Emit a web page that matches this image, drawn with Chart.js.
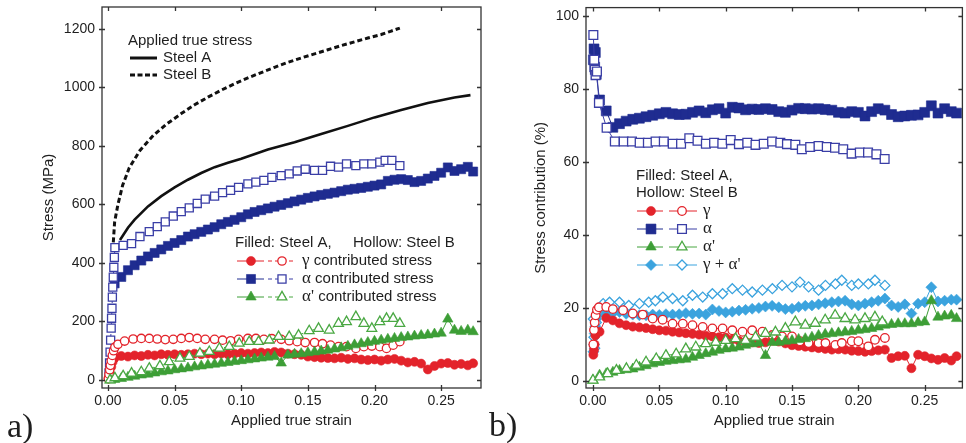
<!DOCTYPE html>
<html>
<head>
<meta charset="utf-8">
<script src="https://cdn.jsdelivr.net/npm/chart.js@4.4.0/dist/chart.umd.min.js"></script>
<style>
  html, body { margin: 0; padding: 0; background: #fff; }
  #page { position: relative; width: 966px; height: 443px; overflow: hidden; background: #fff; }
  #chartA { position: absolute; left: 0; top: 0; }
  #chartB { position: absolute; left: 484px; top: 0; }
</style>
</head>
<body>
<div id="page">
  <canvas id="chartA" width="488" height="443"></canvas>
  <canvas id="chartB" width="486" height="443"></canvas>
</div>
<script>
const SANS = '"Liberation Sans", Arial, sans-serif';
const SERIF = '"Liberation Serif", "Times New Roman", serif';
const INK = '#1e1e1e';

const RED = '#e3232b';
const NAVY = '#1f2c90';
const NAVY_OPEN = '#3a3ea6';
const GREEN = '#3d9e36';
const GREEN_OPEN = '#4aa843';
const SKY = '#3ba3de';

// tick labels
const strainTicks = [0, 0.05, 0.10, 0.15, 0.20, 0.25];
const stressTicks = [0, 200, 400, 600, 800, 1000, 1200];
const shareTicks = [0, 20, 40, 60, 80, 100];

// legend phase names
const phaseNames = ['γ', 'α', "α'"];
const phaseNamesB = ['γ', 'α', "α'", "γ + α'"];

// ---- a) applied true stress curves ----
const applStrainA = [0.009, 0.015, 0.020, 0.030, 0.040, 0.050, 0.060, 0.070, 0.080, 0.090, 0.100, 0.120, 0.140, 0.160, 0.180, 0.200, 0.220, 0.240, 0.260, 0.272];
const applStressA = [478, 520, 548, 593, 628, 658, 684, 707, 727, 742, 756, 787, 812, 840, 868, 897, 922, 946, 965, 973];
const applStrainB = [0.004, 0.005, 0.0075, 0.011, 0.016, 0.024, 0.034, 0.044, 0.055, 0.065, 0.075, 0.085, 0.095, 0.105, 0.115, 0.125, 0.135, 0.145, 0.155, 0.165, 0.175, 0.185, 0.195, 0.205, 0.212, 0.219];
const applStressB = [470, 540, 600, 665, 725, 784, 835, 874, 910, 940, 966, 990, 1012, 1032, 1050, 1068, 1085, 1100, 1114, 1128, 1142, 1155, 1168, 1180, 1191, 1202];

// strain steps of the steel A measurements
const gridA = [0.005, 0.010, 0.015, 0.020, 0.025, 0.030, 0.035, 0.040, 0.045, 0.050, 0.055, 0.060, 0.065, 0.070, 0.075, 0.080, 0.085, 0.090, 0.095, 0.100, 0.105, 0.110, 0.115, 0.120, 0.125, 0.130, 0.135, 0.140, 0.145, 0.150, 0.155, 0.160, 0.165, 0.170, 0.175, 0.180, 0.185, 0.190, 0.195, 0.200, 0.205, 0.210, 0.215, 0.220, 0.225, 0.230, 0.235, 0.240, 0.245, 0.250, 0.255, 0.260, 0.265, 0.270, 0.274];

// ---- a) phase stresses, steel A (filled) ----
const aGammaStartA = [0.0005, 0.0015, 0.0025, 0.0035];
const aGammaStartValA = [5, 22, 45, 62];
const aGammaA = [75, 82, 80, 84, 82, 86, 84, 88, 86, 88, 86, 88, 90, 88, 90, 88, 90, 88, 90, 92, 90, 92, 94, 92, 96, 94, 90, 88, 86, 80, 78, 76, 75, 74, 76, 72, 74, 70, 68, 70, 66, 70, 72, 66, 60, 62, 56, 36, 48, 56, 58, 52, 55, 50, 57];
const aAlphaA = [330, 352, 375, 392, 408, 422, 434, 446, 458, 468, 478, 490, 498, 506, 514, 522, 532, 540, 547, 556, 566, 574, 580, 586, 592, 598, 604, 610, 616, 622, 627, 632, 636, 640, 645, 650, 653, 656, 660, 664, 668, 680, 684, 686, 683, 676, 680, 688, 697, 708, 726, 714, 720, 728, 712];
const aMartA = [2, 5, 9, 13, 17, 20, 24, 28, 31, 35, 38, 41, 45, 48, 51, 54, 57, 60, 63, 66, 69, 72, 75, 78, 80, 58, 85, 88, 90, 93, 96, 99, 102, 106, 110, 115, 120, 124, 128, 132, 136, 139, 142, 145, 147, 150, 152, 154, 157, 160, 208, 170, 166, 170, 165];

// ---- a) phase stresses, steel B (hollow) ----
const aGammaStrainB = [0.0003, 0.0008, 0.0013, 0.0018, 0.0025, 0.0033, 0.0042, 0.0052, 0.0075, 0.0125, 0.0189, 0.025, 0.031, 0.037, 0.043, 0.049, 0.055, 0.061, 0.067, 0.073, 0.080, 0.086, 0.092, 0.098, 0.105, 0.111, 0.117, 0.123, 0.130, 0.136, 0.142, 0.148, 0.155, 0.161, 0.167, 0.173, 0.179, 0.186, 0.192, 0.198, 0.204, 0.209, 0.214, 0.219];
const aGammaB = [5, 20, 35, 50, 66, 84, 100, 112, 122, 133, 140, 142, 142, 140, 138, 139, 142, 145, 142, 139, 139, 136, 134, 139, 142, 142, 139, 141, 139, 134, 131, 128, 128, 124, 119, 114, 114, 108, 114, 116, 114, 108, 119, 131];
const aAlphaStrainB = [0.0008, 0.0012, 0.0016, 0.0020, 0.0024, 0.0027, 0.0030, 0.0033, 0.0036, 0.0040, 0.0044, 0.0048, 0.0052, 0.0114, 0.0177, 0.024, 0.031, 0.037, 0.043, 0.049, 0.055, 0.061, 0.067, 0.073, 0.080, 0.086, 0.092, 0.098, 0.105, 0.111, 0.117, 0.123, 0.130, 0.136, 0.142, 0.148, 0.155, 0.161, 0.167, 0.173, 0.179, 0.186, 0.192, 0.198, 0.204, 0.208, 0.213, 0.219];
const aAlphaB = [24, 58, 95, 136, 177, 211, 245, 283, 317, 351, 385, 419, 452, 460, 466, 490, 507, 524, 540, 560, 575, 588, 603, 618, 628, 640, 648, 658, 670, 676, 682, 692, 698, 704, 714, 720, 716, 716, 730, 727, 738, 732, 738, 738, 744, 750, 750, 732];
const aMartStrainB = [0.0015, 0.0052, 0.0114, 0.0177, 0.025, 0.031, 0.039, 0.046, 0.054, 0.061, 0.069, 0.076, 0.0836, 0.091, 0.0985, 0.106, 0.113, 0.121, 0.128, 0.136, 0.143, 0.151, 0.158, 0.166, 0.173, 0.179, 0.186, 0.192, 0.198, 0.204, 0.209, 0.214, 0.219];
const aMartB = [0, 7, 14, 23, 28, 40, 48, 62, 74, 80, 91, 97, 108, 114, 125, 131, 131, 136, 148, 148, 153, 168, 176, 170, 193, 199, 216, 193, 176, 199, 210, 210, 193];

// ---- b) stress contribution, steel A (filled) ----
const bStartA = [0.0003, 0.0008, 0.0013, 0.0018, 0.0025];
const bGammaStartValA = [7.2, 8.5, 10, 12.5, 13.0];
const bAlphaStartValA = [88, 91, 86, 90, 84];
const bSumStartValA = [8, 10, 13, 15, 17];
const bGammaA = [13.5, 17.3, 16.6, 15.8, 15.3, 14.9, 14.7, 14.5, 14.2, 13.9, 13.8, 13.5, 13.3, 13.1, 12.9, 12.7, 12.4, 12.2, 12.0, 11.9, 11.4, 11.0, 10.8, 10.6, 10.4, 10.6, 11.0, 10.8, 10.3, 9.8, 9.6, 9.4, 9.2, 9.0, 8.8, 8.6, 8.7, 8.6, 8.3, 8.2, 8.0, 8.2, 8.4, 8.6, 6.3, 6.8, 6.9, 3.5, 7.2, 6.8, 6.2, 5.8, 6.3, 5.6, 6.8];
const bAlphaA = [77, 74, 69.5, 70.5, 71.2, 71.7, 72.0, 72.4, 72.8, 73.2, 73.6, 73.2, 73.0, 73.1, 73.6, 74.0, 73.5, 74.3, 74.6, 73.4, 75.0, 74.8, 74.3, 74.5, 74.4, 74.6, 74.4, 73.8, 73.6, 74.2, 74.7, 74.6, 74.5, 74.6, 74.4, 74.2, 73.6, 73.4, 73.8, 73.6, 72.6, 73.8, 74.6, 74.2, 73.0, 72.4, 72.6, 72.8, 72.9, 73.6, 75.4, 73.4, 74.6, 73.8, 73.4];
const bMartA = [1.6, 2.0, 2.4, 2.9, 3.1, 3.3, 3.8, 4.2, 4.7, 5.1, 5.4, 5.6, 5.8, 6.0, 6.5, 7.0, 7.5, 7.9, 8.4, 8.8, 9.0, 9.3, 9.8, 10.2, 10.4, 7.0, 10.6, 10.6, 10.9, 11.1, 11.4, 11.6, 12.0, 12.5, 12.8, 13.0, 13.2, 13.4, 13.6, 13.9, 14.1, 14.4, 14.8, 15.3, 15.5, 15.7, 15.7, 15.7, 16.0, 16.2, 22.0, 17.5, 17.8, 18.0, 17.1];
const bSumA = [18.5, 18.9, 18.6, 18.9, 18.4, 18.2, 18.0, 18.0, 18.2, 18.1, 18.3, 18.2, 18.3, 18.6, 18.4, 18.5, 18.2, 19.6, 19.2, 18.8, 19.0, 19.3, 19.5, 19.8, 20.0, 20.4, 20.6, 20.2, 19.7, 19.8, 20.3, 20.6, 20.7, 21.0, 21.3, 21.6, 21.8, 22.0, 21.0, 20.7, 21.2, 21.6, 22.0, 22.6, 20.7, 20.3, 21.0, 18.5, 21.2, 21.6, 25.7, 21.8, 22.0, 22.3, 22.3];

// ---- b) stress contribution, steel B (hollow) ----
const bGammaStrainB = [0.0003, 0.0008, 0.0013, 0.0020, 0.0030, 0.0045, 0.010, 0.015, 0.0227, 0.030, 0.0375, 0.045, 0.0525, 0.060, 0.0677, 0.075, 0.0827, 0.090, 0.0977, 0.105, 0.1127, 0.120, 0.1277, 0.1352, 0.1425, 0.150, 0.156, 0.1625, 0.170, 0.1752, 0.1827, 0.1875, 0.195, 0.200, 0.2075, 0.2125, 0.220];
const bGammaB = [10, 14, 16, 18, 19.5, 20.2, 20.3, 19.7, 19.4, 18.5, 18.2, 17.1, 16.8, 15.7, 15.7, 15.3, 14.8, 14.4, 14.4, 13.9, 13.5, 13.9, 13.5, 12.6, 12.2, 12.2, 10.9, 10.4, 10.4, 10.4, 9.9, 10.4, 10.9, 10.9, 9.5, 11.3, 11.8];
const bAlphaStrainB = [0.0003, 0.0010, 0.0015, 0.0020, 0.0030, 0.0045, 0.0103, 0.0165, 0.0232, 0.0294, 0.0352, 0.0414, 0.0472, 0.0534, 0.0601, 0.0664, 0.0726, 0.0788, 0.0851, 0.0913, 0.0975, 0.1038, 0.110, 0.1163, 0.1225, 0.1287, 0.135, 0.1412, 0.1462, 0.1525, 0.1574, 0.1637, 0.170, 0.1762, 0.1824, 0.1886, 0.1949, 0.2011, 0.2073, 0.2136, 0.2198];
const bAlphaB = [94.8, 88, 85.3, 83.8, 84.8, 76.2, 69.4, 65.6, 65.6, 65.6, 65.3, 65.3, 65.6, 65.6, 65.0, 65.0, 66.5, 65.8, 65.0, 65.3, 65.0, 66.0, 64.9, 65.3, 64.7, 65.0, 65.6, 65.3, 64.9, 64.7, 63.5, 64.1, 64.4, 64.1, 63.9, 63.5, 62.3, 62.6, 62.6, 62.1, 60.8];
const bMartStrainB = [0.000, 0.005, 0.011, 0.0177, 0.0252, 0.0327, 0.040, 0.0477, 0.055, 0.0627, 0.070, 0.0775, 0.085, 0.0925, 0.100, 0.1075, 0.115, 0.1225, 0.130, 0.1375, 0.145, 0.1525, 0.160, 0.1675, 0.175, 0.1825, 0.190, 0.1975, 0.205, 0.2125, 0.218];
const bMartB = [0.2, 1.1, 2.0, 2.9, 3.4, 4.3, 5.2, 6.1, 7.0, 7.4, 8.8, 9.3, 10.2, 10.6, 11.1, 11.6, 11.1, 12.0, 13.0, 13.4, 14.4, 16.2, 15.3, 15.8, 16.7, 18.0, 17.1, 16.7, 17.1, 17.5, 16.2];
const bSumStrainB = [0.0003, 0.0008, 0.0013, 0.0018, 0.0025, 0.0035, 0.0077, 0.0125, 0.020, 0.027, 0.035, 0.042, 0.047, 0.0527, 0.060, 0.0677, 0.075, 0.0827, 0.090, 0.0977, 0.105, 0.1127, 0.120, 0.1277, 0.1352, 0.1425, 0.150, 0.156, 0.1625, 0.170, 0.1752, 0.1827, 0.1875, 0.195, 0.200, 0.2075, 0.2125, 0.220];
const bSumB = [17, 12, 9, 14, 16, 19, 21.2, 21.6, 21.6, 20.7, 21.2, 21.6, 22.0, 23.0, 22.6, 22.0, 23.5, 23.0, 23.9, 23.9, 25.3, 24.9, 24.4, 24.9, 25.3, 26.2, 25.8, 27.1, 25.8, 24.9, 26.2, 26.6, 27.6, 26.2, 26.6, 26.6, 27.6, 26.2];

function pts(xs, ys) {
    return xs.map((x, i) => ({ x: x, y: ys[i] }));
}

// one marker series, joined by a thin line
function phase(xs, ys, color, style, radius, filled, dashed, order) {
    return {
        data: pts(xs, ys),
        showLine: true,
        order: order,
        borderColor: color,
        borderWidth: 1,
        borderDash: dashed ? [4, 3] : [],
        pointStyle: style,
        pointRadius: radius,
        pointBackgroundColor: filled ? color : '#ffffff',
        pointBorderColor: color,
        pointBorderWidth: filled ? 0.6 : 1.3
    };
}

function drawMark(ctx, style, radius, color, filled, x, y) {
    ctx.save();
    ctx.fillStyle = filled ? color : '#ffffff';
    ctx.strokeStyle = color;
    ctx.lineWidth = filled ? 0.6 : 1.3;
    ctx.setLineDash([]);
    Chart.helpers.drawPoint(ctx, { pointStyle: style, radius: radius, rotation: 0, borderWidth: ctx.lineWidth }, x, y);
    ctx.restore();
}

// box round the plot with short ticks on all four sides
const framePlugin = {
    id: 'frame',
    afterDatasetsDraw(chart) {
        const { ctx, chartArea: ca, scales } = chart;
        ctx.save();
        ctx.strokeStyle = '#333';
        ctx.lineWidth = 1.3;
        ctx.strokeRect(ca.left, ca.top, ca.right - ca.left, ca.bottom - ca.top);
        ctx.beginPath();
        scales.x.ticks.forEach(t => {
            const px = Math.round(scales.x.getPixelForValue(t.value)) + 0.5;
            ctx.moveTo(px, ca.bottom + 3);
            ctx.lineTo(px, ca.bottom - 3);
            ctx.moveTo(px, ca.top);
            ctx.lineTo(px, ca.top + 4);
        });
        scales.y.ticks.forEach(t => {
            const py = Math.round(scales.y.getPixelForValue(t.value)) + 0.5;
            ctx.moveTo(ca.left - 3, py);
            ctx.lineTo(ca.left + 3, py);
            ctx.moveTo(ca.right, py);
            ctx.lineTo(ca.right - 4, py);
        });
        ctx.stroke();
        ctx.restore();
    }
};

// fixed axis boxes, so the plot area lands where the layout padding says
function pinBox(s, size) {
    if (s.isHorizontal()) s.height = size; else s.width = size;
    s.paddingTop = 0;
    s.paddingBottom = 0;
    s.paddingLeft = 0;
    s.paddingRight = 0;
}

function scaleSet(xMin, xMax, yMin, yMax, yTicks, yTitle, yTitlePad) {
    return {
        x: {
            type: 'linear', min: xMin, max: xMax,
            afterBuildTicks: s => { s.ticks = strainTicks.map(v => ({ value: v })); },
            afterFit: s => pinBox(s, 55),
            grid: { display: false, drawTicks: false },
            border: { display: false },
            ticks: { padding: 5, maxRotation: 0, autoSkip: false, color: INK, font: { family: SANS, size: 14 }, callback: v => v.toFixed(2) },
            title: { display: true, text: 'Applied true strain', color: INK, font: { family: SANS, size: 15 }, padding: { top: 0, bottom: 13 } }
        },
        y: {
            type: 'linear', min: yMin, max: yMax,
            afterBuildTicks: s => { s.ticks = yTicks.map(v => ({ value: v })); },
            afterFit: s => pinBox(s, 102),
            grid: { display: false, drawTicks: false },
            border: { display: false },
            ticks: { padding: 7, autoSkip: false, color: INK, font: { family: SANS, size: 14 }, callback: v => String(v) },
            title: { display: true, text: yTitle, color: INK, font: { family: SANS, size: 15 }, padding: { top: yTitlePad, bottom: 0 } }
        }
    };
}

// the x scale keeps a 5px margin on the right, the canvases are sized for it
function baseOptions(scales) {
    return {
        responsive: false,
        animation: false,
        devicePixelRatio: 1,
        events: [],
        layout: { padding: { left: 0, right: 1, top: 6, bottom: 0 } },
        elements: { line: { tension: 0 } },
        plugins: { legend: { display: false }, tooltip: { enabled: false } },
        scales: scales
    };
}

// ---------- a) stresses ----------
const legendA = {
    id: 'legendA',
    afterDraw(chart) {
        const ctx = chart.ctx;
        ctx.save();
        ctx.fillStyle = INK;
        ctx.textBaseline = 'middle';
        ctx.font = '15px ' + SANS;
        ctx.fillText('Applied true stress', 128, 41);
        ctx.fillText('Steel A', 163, 58);
        ctx.fillText('Steel B', 163, 75);
        ctx.strokeStyle = '#111';
        ctx.lineWidth = 3;
        ctx.beginPath(); ctx.moveTo(130, 58); ctx.lineTo(157, 58); ctx.stroke();
        ctx.setLineDash([5, 2.5]);
        ctx.beginPath(); ctx.moveTo(130, 75); ctx.lineTo(157, 75); ctx.stroke();
        ctx.setLineDash([]);

        ctx.fillText('Filled: Steel A,', 235, 243);
        ctx.fillText('Hollow: Steel B', 353, 243);

        const rows = [
            { c: RED, co: RED, s: 'circle', r: 4.5, ro: 4.2 },
            { c: NAVY, co: NAVY_OPEN, s: 'rect', r: 6.4, ro: 5.7 },
            { c: GREEN, co: GREEN_OPEN, s: 'triangle', r: 6, ro: 5.6 }
        ];
        rows.forEach((row, i) => {
            const y = 261 + i * 18;
            ctx.lineWidth = 1;
            ctx.strokeStyle = row.c;
            ctx.beginPath(); ctx.moveTo(237, y); ctx.lineTo(264, y); ctx.stroke();
            ctx.strokeStyle = row.co;
            ctx.setLineDash([4, 3]);
            ctx.beginPath(); ctx.moveTo(268, y); ctx.lineTo(296, y); ctx.stroke();
            ctx.setLineDash([]);
            drawMark(ctx, row.s, row.r, row.c, true, 251, y);
            drawMark(ctx, row.s, row.ro, row.co, false, 282, y);
            ctx.fillStyle = INK;
            ctx.font = '17px ' + SERIF;
            ctx.fillText(phaseNames[i], 302, y);
            const w = ctx.measureText(phaseNames[i]).width;
            ctx.font = '15px ' + SANS;
            ctx.fillText(' contributed stress', 302 + w, y);
        });

        ctx.font = '34px ' + SERIF;
        ctx.textBaseline = 'alphabetic';
        ctx.fillText('a)', 7, 437);
        ctx.restore();
    }
};

new Chart(document.getElementById('chartA'), {
    type: 'scatter',
    data: {
        datasets: [
            { data: pts(applStrainA, applStressA), showLine: true, order: 0, borderColor: '#111', borderWidth: 2.6, pointRadius: 0 },
            { data: pts(applStrainB, applStressB), showLine: true, order: 0, borderColor: '#111', borderWidth: 3, borderDash: [5, 3], pointRadius: 0 },
            phase(aMartStrainB, aMartB, GREEN_OPEN, 'triangle', 5.6, false, true, 1),
            phase([0.002].concat(gridA), [0].concat(aMartA), GREEN, 'triangle', 6, true, false, 2),
            phase(aGammaStrainB, aGammaB, RED, 'circle', 4.2, false, true, 3),
            phase(aGammaStartA.concat(gridA), aGammaStartValA.concat(aGammaA), RED, 'circle', 4.5, true, false, 4),
            phase(aAlphaStrainB, aAlphaB, NAVY_OPEN, 'rect', 5.7, false, true, 5),
            phase(gridA, aAlphaA, NAVY, 'rect', 6.4, true, false, 6)
        ]
    },
    options: baseOptions(scaleSet(-0.00448, 0.2799, -27.3, 1274, stressTicks, 'Stress (MPa)', 40)),
    plugins: [framePlugin, legendA]
});

// ---------- b) stress contribution ----------
const legendB = {
    id: 'legendB',
    afterDraw(chart) {
        const ctx = chart.ctx;
        ctx.save();
        ctx.fillStyle = INK;
        ctx.textBaseline = 'middle';
        ctx.font = '15px ' + SANS;
        ctx.fillText('Filled: Steel A,', 152, 176);
        ctx.fillText('Hollow: Steel B', 152, 193);

        const rows = [
            { c: RED, co: RED, s: 'circle', r: 4.5, ro: 4.3 },
            { c: NAVY, co: NAVY_OPEN, s: 'rect', r: 7, ro: 6.2 },
            { c: GREEN, co: GREEN_OPEN, s: 'triangle', r: 6, ro: 5.8 },
            { c: SKY, co: SKY, s: 'rectRot', r: 5.5, ro: 5 }
        ];
        rows.forEach((row, i) => {
            const y = 211 + i * 18;
            ctx.lineWidth = 1;
            ctx.strokeStyle = row.c;
            ctx.beginPath(); ctx.moveTo(153, y); ctx.lineTo(179, y); ctx.stroke();
            ctx.strokeStyle = row.co;
            ctx.beginPath(); ctx.moveTo(185, y); ctx.lineTo(213, y); ctx.stroke();
            drawMark(ctx, row.s, row.r, row.c, true, 167, y);
            drawMark(ctx, row.s, row.ro, row.co, false, 198, y);
            ctx.fillStyle = INK;
            ctx.font = '17px ' + SERIF;
            ctx.fillText(phaseNamesB[i], 219, y);
        });

        ctx.font = '34px ' + SERIF;
        ctx.textBaseline = 'alphabetic';
        ctx.fillText('b)', 5, 436);
        ctx.restore();
    }
};

new Chart(document.getElementById('chartB'), {
    type: 'scatter',
    data: {
        datasets: [
            phase(bMartStrainB, bMartB, GREEN_OPEN, 'triangle', 5.8, false, false, 1),
            phase([0.000].concat(gridA), [0.2].concat(bMartA), GREEN, 'triangle', 6, true, false, 2),
            phase(bGammaStrainB, bGammaB, RED, 'circle', 4.3, false, false, 3),
            phase(bStartA.concat(gridA), bGammaStartValA.concat(bGammaA), RED, 'circle', 4.5, true, false, 4),
            phase(bSumStrainB, bSumB, SKY, 'rectRot', 5, false, false, 5),
            phase(bStartA.concat(gridA), bSumStartValA.concat(bSumA), SKY, 'rectRot', 5.5, true, false, 6),
            phase(bAlphaStrainB, bAlphaB, NAVY_OPEN, 'rect', 6.2, false, false, 7),
            phase(bStartA.concat(gridA), bAlphaStartValA.concat(bAlphaA), NAVY, 'rect', 7, true, false, 8)
        ]
    },
    options: baseOptions(scaleSet(-0.00524, 0.2784, -1.91, 102.3, shareTicks, 'Stress contribution (%)', 48)),
    plugins: [framePlugin, legendB]
});
</script>
</body>
</html>
